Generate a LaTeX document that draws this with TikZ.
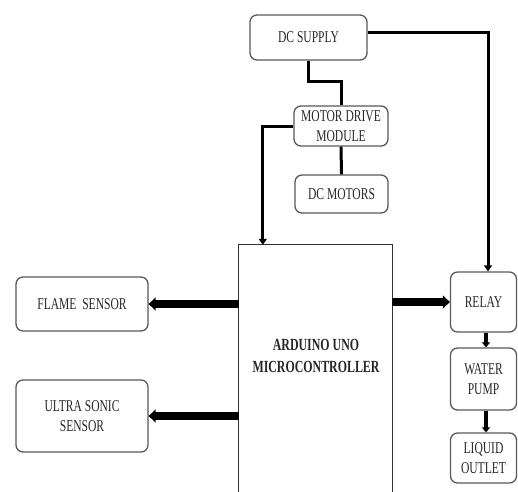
\documentclass[tikz,border=0pt]{standalone}
\usepackage{fontspec}
\setmainfont{Liberation Serif}[FakeStretch=0.7]
\usetikzlibrary{arrows.meta}
\begin{document}
\begin{tikzpicture}[x=1pt,y=-1pt,
  blk/.style={draw=black!65, line width=1.3pt, rounded corners=7pt, align=center, inner sep=0pt,
    font=\fontsize{16.5}{20.5}\selectfont, text=black!85},
  wire/.style={line width=3pt, black},
  wirearrow/.style={wire, -{Triangle[length=6pt,width=8pt]}},
  fatarrow/.style={line width=8pt, black, -{Triangle[length=7pt,width=13pt]}},
  midarrow/.style={line width=4pt, black, -{Triangle[length=5pt,width=8pt]}}]
\useasboundingbox (0,0) rectangle (518,491);

\node[blk, minimum width=117pt, minimum height=45pt] (dc) at (308.5,37.5) {DC SUPPLY};
\node[blk, minimum width=94pt, minimum height=40pt] (motor) at (341,126) {MOTOR DRIVE\\MODULE};
\node[blk, minimum width=93pt, minimum height=38pt] (dcm) at (341.5,194) {DC MOTORS};
\node[blk, minimum width=66pt, minimum height=60pt] (relay) at (483.5,302) {RELAY};
\node[blk, minimum width=66pt, minimum height=62pt] (pump) at (483.5,379) {WATER\\PUMP};
\node[blk, minimum width=66pt, minimum height=50pt] (liquid) at (483.5,458) {LIQUID\\OUTLET};
\node[blk, minimum width=132pt, minimum height=54pt] (flame) at (82,304) {FLAME\ \ SENSOR};
\node[blk, minimum width=132pt, minimum height=72pt] (ultra) at (82,416) {ULTRA SONIC\\SENSOR};

\node[inner sep=0pt, minimum width=153pt, minimum height=250pt] (ard) at (315.5,370) {};
\draw[black!80, line width=1.3pt] (ard.south west) -- (ard.north west) -- (ard.north east) -- (ard.south east);
\node[align=center, font=\bfseries\fontsize{17}{22}\selectfont, text=black!85] (ardlabel) at (316,356) {ARDUINO UNO\\MICROCONTROLLER};

\coordinate (ardin) at ([xshift=24pt]ard.north west);

\draw[wirearrow] ([yshift=5pt]dc.east) -| ([xshift=4.5pt]relay.north);
\draw[wire] (dc.south) -- ++(0,21) -| (motor.north);
\draw[wire] (motor.south) -- (dcm.north);
\draw[wirearrow] (motor.west) -| (ardin);

\draw[fatarrow] (ard.west |- flame.east) -- (flame.east);
\draw[fatarrow] (ard.west |- ultra.east) -- (ultra.east);
\draw[fatarrow] (ard.east |- relay.west) -- (relay.west);
\draw[midarrow] ([xshift=2.5pt]relay.south) -- ([xshift=2.5pt]pump.north);
\draw[midarrow] ([xshift=2.5pt]pump.south) -- ([xshift=2.5pt]liquid.north);
\end{tikzpicture}
\end{document}
